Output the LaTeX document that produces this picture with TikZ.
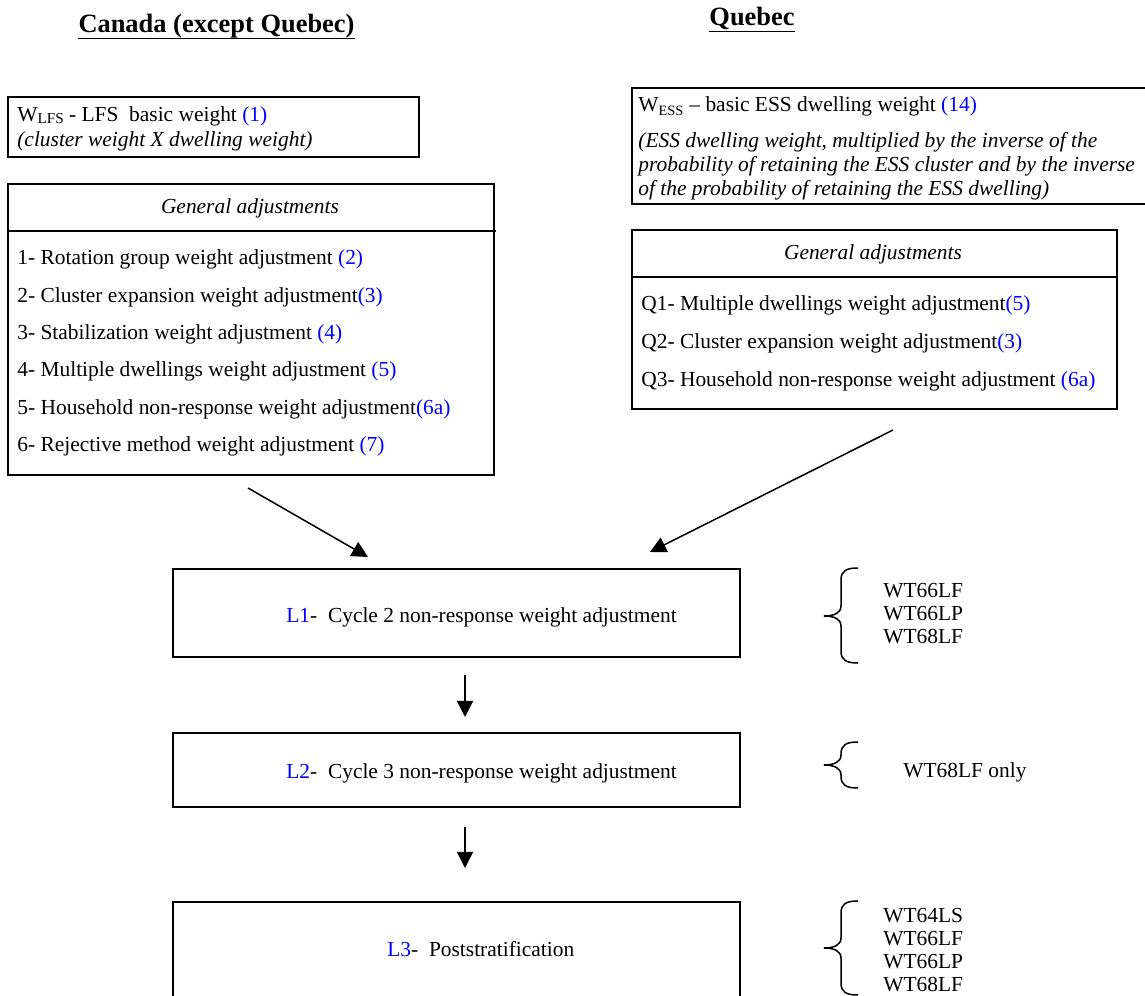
\documentclass[tikz,border=0pt]{standalone}
\usepackage{fontspec}
\setmainfont{Liberation Serif}
\usetikzlibrary{arrows.meta,fit}
\definecolor{refblue}{RGB}{0,0,255}
\newcommand{\rf}[1]{\textcolor{refblue}{#1}}
\newcommand{\curlybr}[4]{%
 \draw[brace] ({#1+34},#2) .. controls ({#1+22},#2) and ({#1+17},{#2+3}) .. ({#1+17},{#2+12})
   -- ({#1+17},{#3-10}) .. controls ({#1+17},{#3-3}) and ({#1+10},#3) .. (#1,#3)
   .. controls ({#1+10},#3) and ({#1+17},{#3+3}) .. ({#1+17},{#3+10})
   -- ({#1+17},{#4-12}) .. controls ({#1+17},{#4-3}) and ({#1+22},#4) .. ({#1+34},#4);}
\begin{document}
\begin{tikzpicture}[x=0.56pt,y=-0.56pt,
  box/.style={draw,line width=1.1pt,inner sep=0pt},
  txt/.style={inner sep=0pt,anchor=base west,font=\fontsize{12}{14}\selectfont},
  itxt/.style={inner sep=0pt,anchor=base west,font=\fontsize{12}{14}\selectfont\itshape},
  hdr/.style={inner sep=0pt,anchor=base,font=\fontsize{12}{14}\selectfont\itshape},
  ttl/.style={inner sep=0pt,anchor=base,font=\fontsize{14.8}{17}\selectfont\bfseries},
  arr/.style={line width=0.85pt,-{Triangle[length=9pt,width=9pt]}},
  brace/.style={line width=0.85pt},
  sepline/.style={line width=1.1pt}
]
\useasboundingbox (0,0) rectangle (1145,996);
\fill[white] (0,0) rectangle (1145,996);
\clip (0,0) rectangle (1145,996);

% titles
\node[ttl] (tcan) at (216.5,33) {Canada (except Quebec)};
\draw[line width=0.85pt] ([yshift=-3pt]tcan.base west) -- ([yshift=-3pt]tcan.base east);
\node[ttl] (tque) at (752,26) {Quebec};
\draw[line width=0.85pt] ([yshift=-3pt]tque.base west) -- ([yshift=-3pt]tque.base east);

% LFS basic weight box
\node[box,fit={(8,97) (419,157)}] (lfs) {};
\node[txt] (lfs1) at (17,122) {W\raisebox{-0.2ex}{\fontsize{8.5}{9}\selectfont LFS} - LFS\ \ basic weight \rf{(1)}};
\node[itxt] (lfs2) at (17,147) {(cluster weight X dwelling weight)};

% General adjustments (Canada)
\node[box,fit={(8,184) (494,475)}] (genc) {};
\draw[sepline] (8,231) -- (496,231);
\node[hdr] (genchd) at (250,214) {General adjustments};
\node[txt] (gc1) at (17,265) {1- Rotation group weight adjustment \rf{(2)}};
\node[txt] (gc2) at (17,303) {2- Cluster expansion weight adjustment\rf{(3)}};
\node[txt] (gc3) at (17,340) {3- Stabilization weight adjustment \rf{(4)}};
\node[txt] (gc4) at (17,377) {4- Multiple dwellings weight adjustment \rf{(5)}};
\node[txt] (gc5) at (17,415) {5- Household non-response weight adjustment\rf{(6a)}};
\node[txt] (gc6) at (17,452) {6- Rejective method weight adjustment \rf{(7)}};

% ESS basic weight box
\node[box,fit={(632,88) (1155,204)}] (ess) {};
\node[txt] (ess1) at (638,112) {W\textsubscript{ESS} – basic ESS dwelling weight \rf{(14)}};
\node[itxt] (ess2) at (638,148) {(ESS dwelling weight, multiplied by the inverse of the};
\node[itxt] (ess3) at (638,172) {probability of retaining the ESS cluster and by the inverse};
\node[itxt] (ess4) at (638,196) {of the probability of retaining the ESS dwelling)};

% General adjustments (Quebec)
\node[box,fit={(632,230) (1117,409)}] (genq) {};
\draw[sepline] (632,277) -- (1117,277);
\node[hdr] (genqhd) at (873,260) {General adjustments};
\node[txt] (gq1) at (641,311) {Q1- Multiple dwellings weight adjustment\rf{(5)}};
\node[txt] (gq2) at (641,349) {Q2- Cluster expansion weight adjustment\rf{(3)}};
\node[txt] (gq3) at (641,387) {Q3- Household non-response weight adjustment \rf{(6a)}};

% L boxes
\node[box,fit={(173,569) (740,657)}] (l1) {};
\node[txt] (l1t) at (286,622) {\rf{L1}-\ \ Cycle 2 non-response weight adjustment};
\node[box,fit={(173,733) (740,807)}] (l2) {};
\node[txt] (l2t) at (286,778) {\rf{L2}-\ \ Cycle 3 non-response weight adjustment};
\node[box,fit={(173,902) (740,1015)}] (l3) {};
\node[txt] (l3t) at (387,956) {\rf{L3}-\ \ Poststratification};

% arrows
\coordinate (a1s) at (248,488);
\coordinate (a1e) at (368,557);
\coordinate (a2s) at (893,430);
\coordinate (a2e) at (650,552);
\coordinate (a3s) at (465,675);
\coordinate (a3e) at (465,717);
\coordinate (a4s) at (465,827);
\coordinate (a4e) at (465,868);
\draw[arr] (a1s) -- (a1e);
\draw[arr] (a2s) -- (a2e);
\draw[arr] (a3s) -- (a3e);
\draw[arr] (a4s) -- (a4e);

% braces and weight lists
\curlybr{824}{568}{616}{663}
\node[txt] (w11) at (883,597) {WT66LF};
\node[txt] (w12) at (883,620) {WT66LP};
\node[txt] (w13) at (883,643) {WT68LF};

\curlybr{824}{742}{765}{788}
\node[txt] (w21) at (903,777) {WT68LF only};

\curlybr{824}{901}{948}{995}
\node[txt] (w31) at (883,922) {WT64LS};
\node[txt] (w32) at (883,945) {WT66LF};
\node[txt] (w33) at (883,968) {WT66LP};
\node[txt] (w34) at (883,991) {WT68LF};
\end{tikzpicture}
\end{document}
